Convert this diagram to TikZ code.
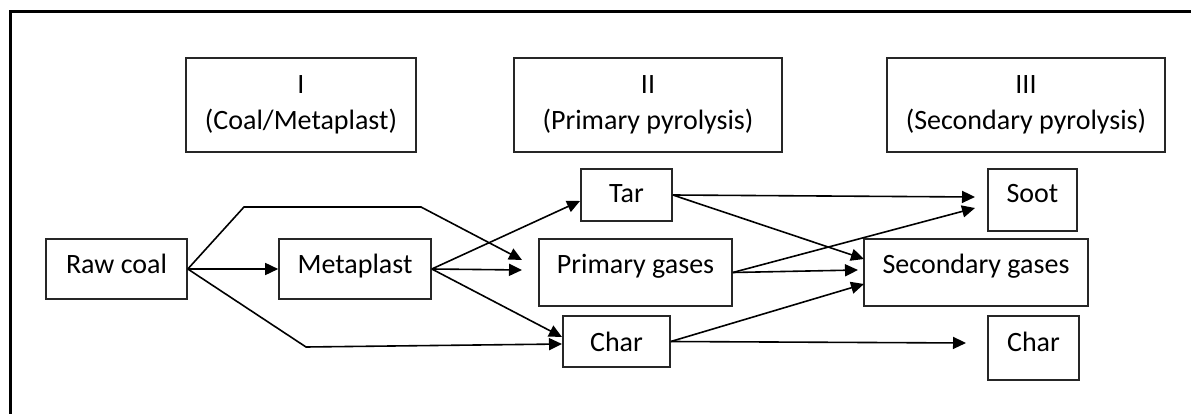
\documentclass[tikz,border=0pt]{standalone}
\usepackage{fontspec}
\setmainfont{Carlito}
\usetikzlibrary{arrows.meta}
\tikzset{
  box/.style={draw=black!85, line width=1.6pt, inner sep=0pt, text height=20pt,
    font=\fontsize{28}{36}\selectfont},
  head/.style={draw=black!85, line width=1.6pt, inner sep=0pt, align=center,
    minimum width=#1, minimum height=94pt, font=\fontsize{28}{36}\selectfont},
  flow/.style={line width=1.6pt, -{Triangle[length=13pt,width=12pt]}},
  frame/.style={line width=3pt}
}
\begin{document}
\begin{tikzpicture}[x=1pt, y=-1pt]
\useasboundingbox (0,0) rectangle (1191,414);
% outer frame (open to the right and bottom)
\draw[frame] (10,420) -- (10,12) -- (1195,12);

% stage headers
\node[head=230pt] (hI)   at (301,105)  {I\\(Coal/Metaplast)};
\node[head=268pt] (hII)  at (648,105)  {II\\(Primary pyrolysis)};
\node[head=278pt] (hIII) at (1026,105) {III\\(Secondary pyrolysis)};

% species boxes
\node[box, minimum width=141pt, minimum height=60pt, text depth=12pt] (raw)   at (116.5,269) {Raw coal};
\node[box, minimum width=152pt, minimum height=60pt, text depth=12pt] (meta)  at (355,269)   {Metaplast};
\node[box, minimum width=91pt,  minimum height=52pt, text depth=4pt]  (tar)   at (626.5,195) {Tar};
\node[box, minimum width=193pt, minimum height=67pt, text depth=19pt] (pg)    at (635.5,272.5) {Primary gases};
\node[box, minimum width=107pt, minimum height=51pt, text depth=1pt]  (char1) at (616.5,341.5) {Char};
\node[box, minimum width=89pt,  minimum height=62pt, text depth=14pt] (soot)  at (1032.5,200) {Soot};
\node[box, minimum width=224pt, minimum height=67pt, text depth=19pt] (sg)    at (976,272.5) {Secondary gases};
\node[box, minimum width=91pt,  minimum height=64pt, text depth=14pt] (char2) at (1033.5,348) {Char};

% arrow ends just short of the target boxes
\coordinate (pgA)    at (522,260);
\coordinate (pgB)    at (522,270);
\coordinate (tarA)   at (580,201);
\coordinate (charA)  at (562,337);
\coordinate (charB)  at (562,344);
\coordinate (sootA)  at (975,197);
\coordinate (sootB)  at (975,208);
\coordinate (sgA)    at (864,259);
\coordinate (sgB)    at (858,270);
\coordinate (sgC)    at (864,284);
\coordinate (char2A) at (966,343);

% stage I
\draw[flow] (raw.east) -- (meta.west);
\draw[flow] (raw.east) -- (244,207) -- (421,207) -- (pgA);
\draw[flow] (raw.east) -- (306,347) -- (charB);
\draw[flow] (meta.east) -- (tarA);
\draw[flow] (meta.east) -- (pgB);
\draw[flow] (meta.east) -- (charA);

% stage II -> III
\draw[flow] (tar.east) -- (sootA);
\draw[flow] (tar.east) -- (sgA);
\draw[flow] (pg.east) -- (sootB);
\draw[flow] (pg.east) -- (sgB);
\draw[flow] (char1.east) -- (sgC);
\draw[flow] (char1.east) -- (char2A);
\end{tikzpicture}
\end{document}
